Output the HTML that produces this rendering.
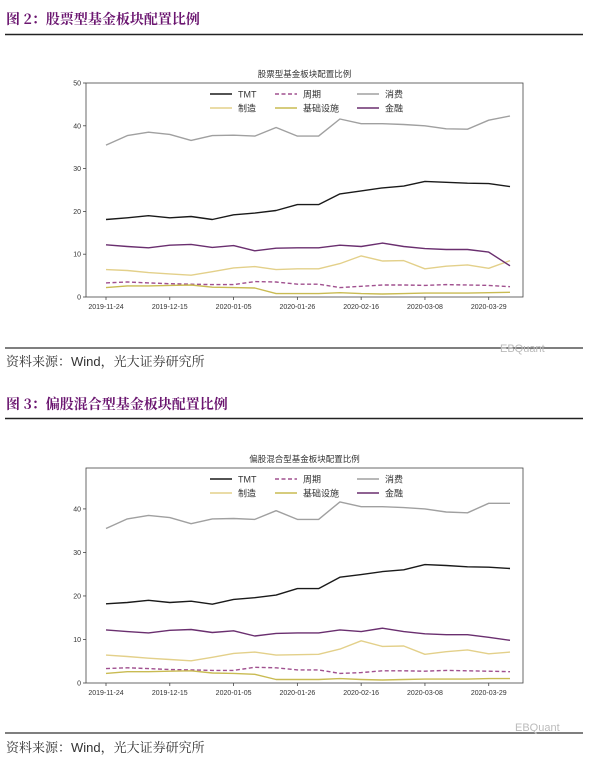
<!DOCTYPE html>
<html><head><meta charset="utf-8">
<style>
body{margin:0;background:#fff;}
svg{display:block;font-family:"Liberation Sans","Noto Sans CJK SC",sans-serif;}
</style></head>
<body>
<svg id="page" width="600" height="767" viewBox="0 0 600 767">
  <text x="6" y="24" font-size="14" font-weight="bold" fill="#6b1670" font-family="'Noto Serif CJK SC','Liberation Serif',serif">图 2：股票型基金板块配置比例</text>
  <line x1="5" y1="34.5" x2="583" y2="34.5" stroke="#222" stroke-width="1.5"/>
  <g id="chart1"></g>
  <line x1="5" y1="348" x2="583" y2="348" stroke="#333" stroke-width="1.2"/>
  <text x="6" y="366" font-size="13" fill="#333" font-family="'Noto Serif CJK SC','Liberation Serif',serif">资料来源：<tspan font-family="'Liberation Sans',sans-serif">Wind</tspan>，光大证券研究所</text>
  <text x="500" y="352" font-size="11" fill="#bbb">EBQuant</text>

  <text x="6" y="409" font-size="14" font-weight="bold" fill="#6b1670" font-family="'Noto Serif CJK SC','Liberation Serif',serif">图 3：偏股混合型基金板块配置比例</text>
  <line x1="5" y1="418.5" x2="583" y2="418.5" stroke="#222" stroke-width="1.5"/>
  <g id="chart2"></g>
  <line x1="5" y1="733" x2="583" y2="733" stroke="#333" stroke-width="1.2"/>
  <text x="6" y="752" font-size="13" fill="#333" font-family="'Noto Serif CJK SC','Liberation Serif',serif">资料来源：<tspan font-family="'Liberation Sans',sans-serif">Wind</tspan>，光大证券研究所</text>
  <text x="515" y="731" font-size="11" fill="#bbb">EBQuant</text>
</svg>
<script>
const xTickLabels = ["2019-11-24","2019-12-15","2020-01-05","2020-01-26","2020-02-16","2020-03-08","2020-03-29"];
const xTickIndex = [0,3,6,9,12,15,18];
const seriesNames = ["TMT","周期","消费","制造","基础设施","金融"];
const seriesColors = ["#1a1a1a","#a0508f","#a0a0a0","#e3d08a","#c9bb52","#6a2f6f"];

const c1TMT = [18.1,18.5,19,18.5,18.8,18.1,19.2,19.6,20.2,21.6,21.6,24.1,24.8,25.5,25.9,27,26.8,26.6,26.5,25.8];
const c1Cycle = [3.3,3.5,3.3,3.1,3.0,2.9,2.9,3.6,3.5,3.0,3.0,2.2,2.5,2.8,2.8,2.7,2.9,2.8,2.7,2.4];
const c1Consumer = [35.5,37.7,38.5,38,36.6,37.7,37.8,37.6,39.6,37.6,37.6,41.6,40.5,40.5,40.3,40,39.3,39.2,41.3,42.3];
const c1Manuf = [6.4,6.2,5.7,5.4,5.1,5.9,6.8,7.1,6.4,6.6,6.6,7.8,9.6,8.4,8.5,6.6,7.2,7.5,6.7,8.5];
const c1Infra = [2.2,2.6,2.6,2.7,2.8,2.3,2.2,2.1,0.8,0.8,0.8,1.0,0.8,0.7,0.8,0.9,0.9,0.9,1.0,1.1];
const c1Finance = [12.2,11.8,11.5,12.1,12.3,11.6,12,10.8,11.4,11.5,11.5,12.1,11.8,12.6,11.8,11.3,11.1,11.1,10.5,7.3];
const c1YTicks = [0,10,20,30,40,50];

const c2TMT = [18.2,18.5,19,18.5,18.8,18.1,19.2,19.6,20.2,21.7,21.7,24.3,24.9,25.6,26,27.2,27,26.7,26.6,26.3];
const c2Cycle = [3.3,3.5,3.3,3.1,3.0,2.9,2.9,3.6,3.5,3.0,3.0,2.2,2.4,2.8,2.8,2.7,2.9,2.8,2.7,2.6];
const c2Consumer = [35.5,37.7,38.5,38,36.6,37.7,37.8,37.6,39.6,37.6,37.6,41.6,40.5,40.5,40.3,40,39.3,39.1,41.3,41.3];
const c2Manuf = [6.4,6.1,5.7,5.4,5.1,5.9,6.8,7.1,6.4,6.5,6.6,7.8,9.7,8.4,8.5,6.6,7.2,7.6,6.7,7.1];
const c2Infra = [2.2,2.6,2.6,2.7,2.8,2.3,2.2,2.0,0.8,0.8,0.8,1.0,0.8,0.7,0.8,0.9,0.9,0.9,1.0,1.0];
const c2Finance = [12.2,11.8,11.5,12.1,12.3,11.6,12,10.8,11.4,11.5,11.5,12.2,11.8,12.6,11.8,11.3,11.1,11.1,10.5,9.8];
const c2YTicks = [0,10,20,30,40];

const NS="http://www.w3.org/2000/svg";
function mk(tag, attrs, parent){const e=document.createElementNS(NS,tag);for(const k in attrs)e.setAttribute(k,attrs[k]);parent.appendChild(e);return e;}

function drawChart(gid, title, series, yTicks, yMax, box){
  const g=document.getElementById(gid);
  const n=series[0].length;
  const xS=i=>box.x0+(box.x1-box.x0)*i/(n-1);
  const yS=v=>box.yb-(box.yb-box.yt)*v/yMax;
  const t=mk('text',{x:(box.L+box.R)/2,y:box.yt-6,'font-size':8.5,'text-anchor':'middle',fill:'#333'},g);
  t.textContent=title;
  
  
  const frame=mk('rect',{x:box.L,y:box.yt,width:box.R-box.L,height:box.yb-box.yt,fill:'none',stroke:'#444','stroke-width':0.8},g);
  
  
  yTicks.forEach(v=>{
    mk('line',{x1:box.L-3,x2:box.L,y1:yS(v),y2:yS(v),stroke:'#444','stroke-width':0.8},g);
    const tx=mk('text',{x:box.L-5,y:yS(v)+2.5,'font-size':7,'text-anchor':'end',fill:'#333'},g);
    tx.textContent=v;
    
    
  });
  xTickIndex.forEach((i,k)=>{
    mk('line',{x1:xS(i),x2:xS(i),y1:box.yb,y2:box.yb+3,stroke:'#444','stroke-width':0.8},g);
    const tx=mk('text',{x:xS(i),y:box.yb+12,'font-size':7,'text-anchor':'middle',fill:'#333'},g);
    tx.textContent=xTickLabels[k];
    
    
  });
  series.forEach((s,si)=>{
    const p=mk('polyline',{points:s.map((v,i)=>xS(i).toFixed(1)+','+yS(v).toFixed(1)).join(' '),fill:'none',stroke:seriesColors[si],'stroke-width':1.4,'stroke-linejoin':'round'},g);
    if(si===1)p.setAttribute('stroke-dasharray','4,2.5');
    
    
  });
  const lx=[210,275,357], ly=[box.yt+11,box.yt+25];
  seriesNames.forEach((nm,si)=>{
    const col=si%3,row=Math.floor(si/3);
    const x=lx[col],y=ly[row];
    const l=mk('line',{x1:x,x2:x+22,y1:y,y2:y,stroke:seriesColors[si],'stroke-width':1.6},g);
    if(si===1)l.setAttribute('stroke-dasharray','4,2.5');
    
    
    const tx=mk('text',{x:x+28,y:y+3.5,'font-size':9,fill:'#333'},g);
    tx.textContent=nm;
    
    
  });
}
drawChart('chart1','股票型基金板块配置比例',[c1TMT,c1Cycle,c1Consumer,c1Manuf,c1Infra,c1Finance],c1YTicks,50,
  {L:86,R:523,yt:83,yb:297,x0:106,x1:510});
drawChart('chart2','偏股混合型基金板块配置比例',[c2TMT,c2Cycle,c2Consumer,c2Manuf,c2Infra,c2Finance],c2YTicks,49.4,
  {L:86,R:523,yt:468,yb:683,x0:106,x1:510});
</script>
</body></html>
